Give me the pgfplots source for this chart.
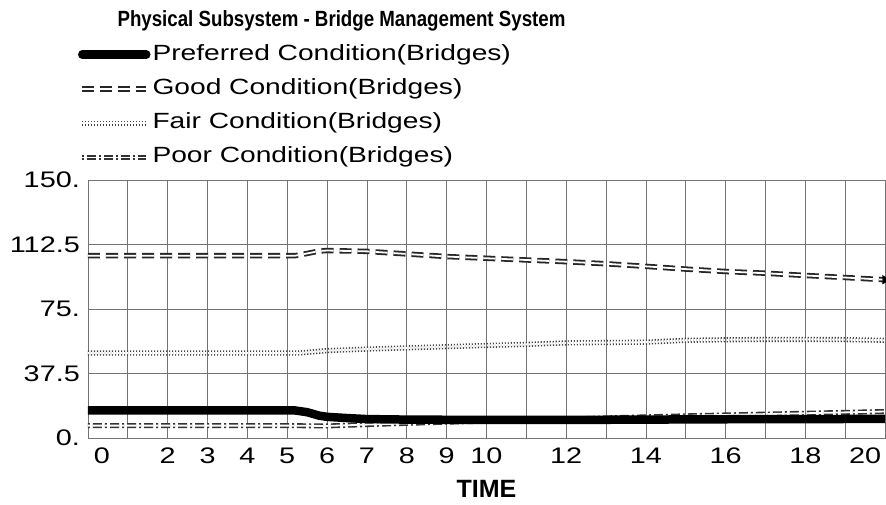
\documentclass[border=0pt]{standalone}
\usepackage{fontspec}
\setmainfont{Liberation Sans}
\newfontfamily\widefont{Liberation Sans}[FakeStretch=1.28]
\newfontfamily\titlefont{Liberation Sans Bold}[FakeStretch=0.85]
\usepackage{pgfplots}
\pgfplotsset{compat=1.18}

\pgfplotstableread{
t v
0 16
5.2 16
5.5 15
5.8 13
6 12.3
6.5 11.6
7 11
8 10.7
9 10.6
10 10.5
12 10.5
14 10.7
16 10.9
18 11
20 11.1
}\preferred

\pgfplotstableread{
t v
0 106
5.2 106
5.5 107.3
5.8 108.7
6 109
7 108.5
8 107
9 105.5
10 104.5
11 103.5
12 102.5
13 101.3
14 99.8
15 98.2
16 96.8
17 95.8
18 94.5
19 93.3
20 92
}\good

\pgfplotstableread{
t v
0 49.4
5.3 49.4
5.7 50.2
6 50.8
7 51.7
8 52.4
9 53.1
10 53.8
11 54.4
12 55.3
13 55.5
14 55.7
15 56.8
16 57.1
17 57.3
18 57.3
19 57.2
20 56.8
}\fair

\pgfplotstableread{
t v
0 7.2
5 7.2
6 7
7 7.8
8 8.5
9 9.2
10 9.8
11 10.4
12 11
13 11.7
14 12.3
15 12.9
16 13.4
17 13.9
18 14.4
19 14.9
20 15.4
}\poor

\begin{document}
\begin{tikzpicture}
\path[use as bounding box] (0pt,0pt) rectangle (886pt,504pt);
\begin{axis}[
  at={(88pt,66pt)}, anchor=south west,
  scale only axis, width=797pt, height=258pt,
  xmin=0, xmax=20, ymin=0, ymax=150,
  xtick={0.35,2,3,4,5,6,7,8,9,10,12,14,16,18,19.5},
  xticklabels={0,2,3,4,5,6,7,8,9,10,12,14,16,18,20},
  minor xtick={0,1,...,20},
  ytick={0,37.5,75,112.5,150},
  yticklabels={0.,37.5,75.,112.5,150.},
  xmajorgrids=false, xminorgrids=true, ymajorgrids=true,
  major tick length=0pt, minor tick length=0pt,
  grid style={black!55, line width=0.8pt},
  minor grid style={black!55, line width=0.8pt},
  axis line style={black!55, line width=0.8pt},
  /pgf/number format/assume math mode=true,
  ticklabel style={font=\widefont\fontsize{22.5}{22.5}\selectfont, inner sep=0pt},
  xticklabel style={yshift=-10pt},
  yticklabel style={xshift=-8pt},
  xlabel={TIME},
  xlabel style={font=\bfseries\fontsize{25}{25}\selectfont, at={(axis description cs:0.5,-0.198)}, anchor=center, inner sep=0pt},
  reverse legend,
  legend cell align=left,
  legend style={draw=none, fill=none, inner sep=0pt, outer sep=0pt,
    at={(axis description cs:-0.0125,1.527)}, anchor=north west,
    font=\widefont\fontsize{22}{22}\selectfont,
    nodes={inner sep=0pt, text height=16pt, text depth=5pt},
    row sep=13.3pt, column sep=2pt},
  legend image code/.code={\draw[#1] (0pt,0pt) -- (64pt,0pt);},
]
\addplot[black!80, line width=1.6pt, double=white, double distance=1.8pt,
  dash pattern=on 2pt off 3pt on 9pt off 3pt] table[x=t,y=v] {\poor};
\addlegendentry{Poor Condition(Bridges)}
\addplot[black!75, line width=1.6pt, double=white, double distance=2pt,
  dash pattern=on 1.2pt off 1.8pt] table[x=t,y=v] {\fair};
\addlegendentry{Fair Condition(Bridges)}
\addplot[black!85, line width=1.8pt, double=white, double distance=1.8pt,
  dash pattern=on 12pt off 6pt] table[x=t,y=v] {\good};
\addlegendentry{Good Condition(Bridges)}
\addplot[black, line width=8.5pt, line cap=round] table[x=t,y=v] {\preferred};
\addlegendentry{Preferred Condition(Bridges)}
\addplot[forget plot, only marks, mark=triangle*, mark size=5pt,
  mark options={rotate=-90, fill=black, draw=black}] coordinates {(20,92)};
\end{axis}
\node[anchor=base, font=\titlefont\fontsize{22}{22}\selectfont, inner sep=0pt]
  at (341.5pt,477pt) {Physical Subsystem - Bridge Management System};
\end{tikzpicture}
\end{document}
